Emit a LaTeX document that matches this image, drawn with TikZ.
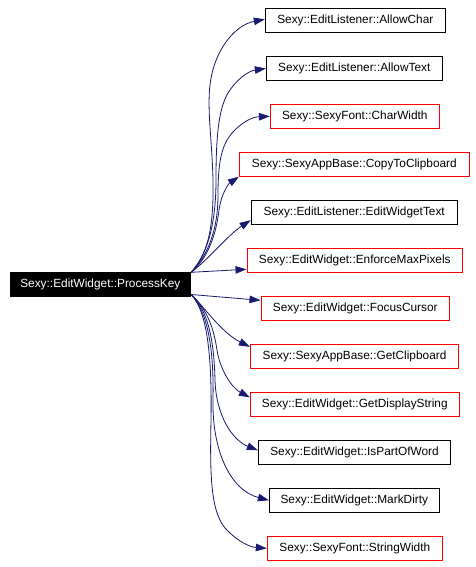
\documentclass[tikz,border=0pt]{standalone}
\usepackage{fontspec}
\setmainfont{Liberation Sans}
\usetikzlibrary{arrows.meta}
\definecolor{edgeblue}{HTML}{191970}
\begin{document}
\begin{tikzpicture}[x=1pt,y=-1pt,
  fn/.style={draw, rectangle, minimum height=24pt, inner xsep=2pt, inner ysep=0pt,
    font=\fontsize{11.85}{14}\selectfont, line width=0.9pt},
  redbox/.style={fn, draw=red},
  blackbox/.style={fn, draw=black},
  mainbox/.style={fn, fill=black, text=white, draw=black},
  call/.style={draw=edgeblue, line width=0.8pt, -{Triangle[length=11pt,width=7.5pt]}}]
\useasboundingbox[fill=white] (0,0) rectangle (476,567);

\node[mainbox, minimum width=180.7pt, minimum height=23.3pt] (main) at (100.35,284.4) {Sexy::EditWidget::ProcessKey};
\node[blackbox, minimum width=180pt]   (n1)  at (355.3,20.3)  {Sexy::EditListener::AllowChar};
\node[blackbox, minimum width=176pt]   (n2)  at (354.3,68.5)  {Sexy::EditListener::AllowText};
\node[redbox,   minimum width=169pt]   (n3)  at (354.8,116.3) {Sexy::SexyFont::CharWidth};
\node[redbox,   minimum width=230pt]   (n4)  at (354.3,164.3) {Sexy::SexyAppBase::CopyToClipboard};
\node[blackbox, minimum width=206.3pt] (n5)  at (354.2,212.2) {Sexy::EditListener::EditWidgetText};
\node[redbox,   minimum width=215.7pt] (n6)  at (354.8,260.3) {Sexy::EditWidget::EnforceMaxPixels};
\node[redbox,   minimum width=188.7pt] (n7)  at (355.3,308.3) {Sexy::EditWidget::FocusCursor};
\node[redbox,   minimum width=208.4pt] (n8)  at (354.5,356.3) {Sexy::SexyAppBase::GetClipboard};
\node[redbox,   minimum width=209pt]   (n9)  at (354.8,404.3) {Sexy::EditWidget::GetDisplayString};
\node[blackbox, minimum width=192.4pt] (n10) at (354.5,452.3) {Sexy::EditWidget::IsPartOfWord};
\node[blackbox, minimum width=170pt]   (n11) at (354.3,500.3) {Sexy::EditWidget::MarkDirty};
\node[redbox,   minimum width=175pt]   (n12) at (354.8,548.3) {Sexy::SexyFont::StringWidth};

% upward calls
\draw[call] (main.north east) .. controls (207,255) and (214,230) .. (213,180)
  .. controls (212,140) and (207,110) .. (210,85)
  .. controls (214,50) and (235,25) .. ([yshift=1pt]n1.west);
\draw[call] (main.north east) .. controls (207,255) and (216,225) .. (216,180)
  .. controls (216,140) and (218,110) .. (228,93)
  .. controls (236,80) and (248,71) .. (n2.west);
\draw[call] (main.north east) .. controls (208,255) and (218,230) .. (218,195)
  .. controls (218,160) and (222,145) .. (232,133)
  .. controls (242,122) and (252,117) .. (n3.west);
\draw[call] (main.north east) .. controls (208,258) and (216,235) .. (219,210)
  .. controls (221,195) and (228,184) .. (n4.south west);
\draw[call] (main.north east) .. controls (210,258) and (228,235) .. ([yshift=-8pt]n5.west);
\draw[call] (main.north east) -- ([yshift=-9pt]n6.west);
% downward calls
\draw[call] ([yshift=2pt]main.south east) -- ([yshift=8pt]n7.west);
\draw[call] ([yshift=2pt]main.south east) .. controls (205,308) and (222,333) .. ([yshift=9.5pt]n8.west);
\draw[call] ([yshift=2pt]main.south east) .. controls (208,310) and (214,330) .. (217,350)
  .. controls (220,370) and (232,388) .. ([yshift=7pt]n9.west);
\draw[call] ([yshift=2pt]main.south east) .. controls (208,310) and (214,340) .. (215,380)
  .. controls (216,415) and (232,440) .. ([yshift=2pt]n10.west);
\draw[call] ([yshift=2pt]main.south east) .. controls (208,312) and (214,350) .. (213,400)
  .. controls (212,450) and (230,490) .. (n11.west);
\draw[call] ([yshift=2pt]main.south east) .. controls (208,312) and (212,360) .. (211,420)
  .. controls (210,470) and (210,510) .. (225,528)
  .. controls (238,542) and (250,547) .. (n12.west);
\end{tikzpicture}
\end{document}
